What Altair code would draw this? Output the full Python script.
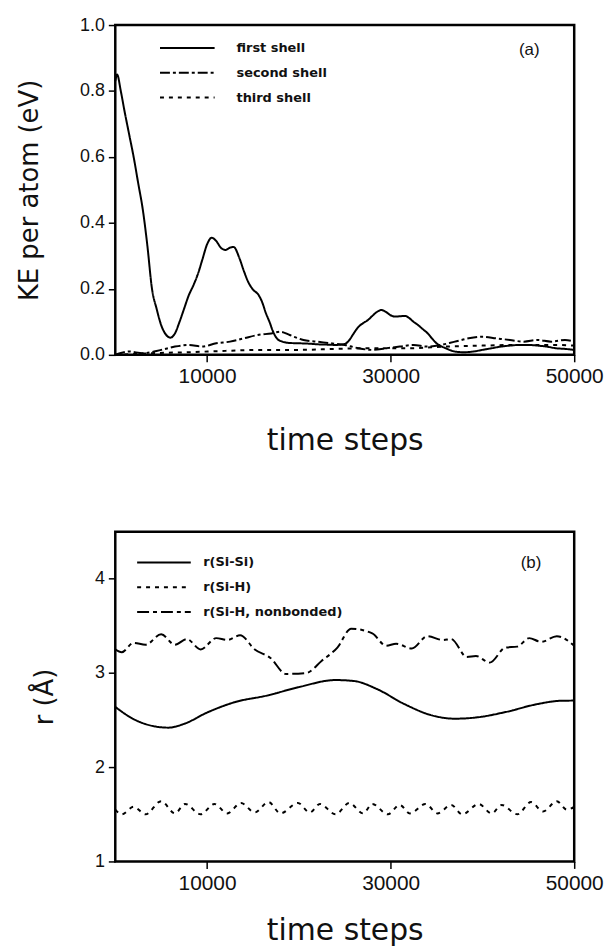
import altair as alt
import pandas as pd

# ---------------- Panel (a): kinetic energy per atom ----------------
shell_names = ["first shell", "second shell", "third shell"]

t_first = [0, 200, 600, 1000, 1500, 2000, 2500, 3000, 3500, 4000,
           4500, 5000, 5500, 6000, 6500, 7000, 7500, 8000, 8500, 9000,
           9500, 10000, 10500, 11000, 11500, 12000, 12500, 12900, 13500, 14000,
           14500, 15000, 15600, 16000, 16400, 16800, 17200, 17600, 18200, 19000,
           20000, 21000, 22000, 23000, 24000, 25000, 25500, 26000, 26500, 27000,
           27500, 28000, 28500, 29000, 29500, 30000, 30500, 31000, 31600, 32000,
           32500, 33000, 33500, 34000, 34500, 35000, 36000, 37000, 38000, 39000,
           40000, 41000, 42000, 43000, 44000, 45000, 46000, 47000, 48000, 49000,
           50000]
ke_first = [0.83, 0.85, 0.80, 0.74, 0.67, 0.60, 0.52, 0.44, 0.33, 0.20,
            0.14, 0.09, 0.062, 0.052, 0.065, 0.10, 0.14, 0.18, 0.21, 0.245,
            0.29, 0.335, 0.355, 0.345, 0.325, 0.318, 0.325, 0.327, 0.295, 0.255,
            0.22, 0.198, 0.182, 0.16, 0.127, 0.10, 0.07, 0.05, 0.04, 0.036,
            0.035, 0.034, 0.032, 0.031, 0.03, 0.033, 0.045, 0.066, 0.085, 0.096,
            0.105, 0.118, 0.13, 0.136, 0.13, 0.12, 0.116, 0.117, 0.118, 0.112,
            0.10, 0.09, 0.078, 0.066, 0.05, 0.035, 0.02, 0.01, 0.008, 0.01,
            0.015, 0.02, 0.025, 0.028, 0.03, 0.03, 0.028, 0.025, 0.02, 0.018,
            0.015]

t_second = [0, 1500, 3000, 5000, 6500, 8000, 9500, 11000, 12500, 14000,
            15500, 17000, 18000, 19000, 20500, 22000, 23500, 25000, 26500, 28000,
            29500, 31000, 32500, 34000, 35500, 37000, 38500, 40000, 41500, 43000,
            44500, 46000, 47500, 49000, 50000]
ke_second = [0.0, 0.01, 0.005, 0.015, 0.025, 0.03, 0.025, 0.035, 0.04, 0.05,
             0.06, 0.065, 0.07, 0.06, 0.045, 0.04, 0.035, 0.03, 0.02, 0.015,
             0.02, 0.025, 0.03, 0.025, 0.03, 0.04, 0.05, 0.055, 0.05, 0.045,
             0.04, 0.045, 0.04, 0.045, 0.04]

t_third = [0, 4000, 8000, 12000, 16000, 20000, 24000, 28000, 32000, 36000,
           40000, 44000, 48000, 50000]
ke_third = [0.0, 0.005, 0.008, 0.012, 0.015, 0.015, 0.018, 0.02, 0.02, 0.025,
            0.028, 0.03, 0.03, 0.028]

# ---------------- Panel (b): distances ----------------
bond_names = ["r(Si-Si)", "r(Si-H)", "r(Si-H, nonbonded)"]

t_sisi = [0, 2000, 4500, 5800, 7500, 10000, 13000, 16500, 20000, 24000,
          26000, 28500, 31500, 34500, 37000, 39500, 42500, 46000, 48500, 50000]
r_sisi = [2.64, 2.51, 2.43, 2.42, 2.46, 2.58, 2.69, 2.76, 2.85, 2.925,
          2.915, 2.83, 2.67, 2.55, 2.515, 2.53, 2.585, 2.67, 2.705, 2.707]

t_sih = [0, 700, 2000, 3300, 5000, 6500, 7600, 9300, 10800, 12200,
         13700, 15200, 16700, 18000, 19900, 21200, 22300, 24000, 25500, 27000,
         28000, 29700, 31000, 32100, 33800, 35100, 36600, 37800, 39600, 41000,
         42100, 43800, 45300, 46600, 48100, 49200, 50000]
r_sih = [1.55, 1.50, 1.58, 1.50, 1.64, 1.51, 1.61, 1.50, 1.61, 1.51,
         1.62, 1.52, 1.63, 1.51, 1.62, 1.52, 1.61, 1.50, 1.62, 1.51,
         1.61, 1.50, 1.60, 1.51, 1.61, 1.51, 1.60, 1.50, 1.61, 1.51,
         1.60, 1.50, 1.63, 1.53, 1.64, 1.55, 1.58]

t_nonb = [0, 700, 2000, 3300, 5000, 6500, 7800, 9300, 11000, 12200,
          13600, 15200, 16900, 18600, 20800, 22500, 24200, 25700, 28000, 29500,
          30600, 32300, 34000, 35700, 36600, 38300, 39300, 40800, 42500, 43800,
          45100, 46400, 48100, 50000]
r_nonb = [3.25, 3.22, 3.32, 3.30, 3.41, 3.30, 3.36, 3.25, 3.37, 3.35,
          3.40, 3.25, 3.16, 2.99, 3.00, 3.13, 3.27, 3.47, 3.42, 3.29,
          3.31, 3.26, 3.39, 3.35, 3.36, 3.17, 3.18, 3.11, 3.27, 3.28,
          3.37, 3.33, 3.39, 3.29]

x_ticks = [10000, 30000, 50000]
ke_ticks = [0.0, 0.2, 0.4, 0.6, 0.8, 1.0]
r_ticks = [1, 2, 3, 4]
panel_labels = ["(a)", "(b)"]

# ---------------- tables ----------------
df_a = pd.concat([
    pd.DataFrame({"t": t_first, "v": ke_first, "s": shell_names[0]}),
    pd.DataFrame({"t": t_second, "v": ke_second, "s": shell_names[1]}),
    pd.DataFrame({"t": t_third, "v": ke_third, "s": shell_names[2]}),
])
df_b = pd.concat([
    pd.DataFrame({"t": t_sisi, "v": r_sisi, "s": bond_names[0]}),
    pd.DataFrame({"t": t_sih, "v": r_sih, "s": bond_names[1]}),
    pd.DataFrame({"t": t_nonb, "v": r_nonb, "s": bond_names[2]}),
])

W, H = 462, 332
TICK_FONT = "Liberation Sans"
TITLE_FONT = "DejaVu Sans"


def x_axis(ty):
    return alt.Axis(values=x_ticks, format="d", title="time steps",
                    labelFont=TICK_FONT, labelFontSize=21, labelColor="#111",
                    labelFlush=False, labelPadding=4,
                    tickSize=7, tickWidth=1.5, tickColor="black",
                    domain=False, grid=False,
                    titleFont=TITLE_FONT, titleFontSize=30, titleFontWeight="normal",
                    titleColor="#111", titleX=W / 2, titleY=ty,
                    titleAlign="center", titleBaseline="middle")


def y_axis(title, values, fmt, tx):
    return alt.Axis(values=values, format=fmt, title=title,
                    labelFont=TICK_FONT, labelFontSize=18, labelColor="#111",
                    labelPadding=4,
                    tickSize=7, tickWidth=1.5, tickColor="black",
                    domain=False, grid=False,
                    titleFont=TITLE_FONT, titleFontSize=26, titleFontWeight="normal",
                    titleColor="#111", titleAngle=270, titleX=tx, titleY=H / 2,
                    titleAlign="center", titleBaseline="middle")


def legend(lx, ly, size, offset, clip):
    return alt.Legend(orient="none", legendX=lx, legendY=ly, title=None,
                      padding=0, symbolType="stroke", symbolSize=size,
                      symbolStrokeWidth=2, symbolStrokeColor="black",
                      labelFont=TITLE_FONT, labelFontWeight="bold",
                      labelFontSize=13, labelColor="#111",
                      labelOffset=offset, clipHeight=clip, rowPadding=0)


xs = alt.Scale(domain=[0, 50000], nice=False, zero=False)
frame = alt.ViewBackground(stroke="black", strokeWidth=2.5, fill="white")

lines_a = alt.Chart(df_a).mark_line(color="black", strokeWidth=2, interpolate="monotone").encode(
    x=alt.X("t:Q", scale=xs, axis=x_axis(86)),
    y=alt.Y("v:Q", scale=alt.Scale(domain=[0, 1], nice=False),
            axis=y_axis("KE per atom (eV)", ke_ticks, ".1f", -86)),
    strokeDash=alt.StrokeDash("s:N", scale=alt.Scale(domain=shell_names,
                                                     range=[[1, 0], [10, 3, 3, 3], [4, 5]]),
                              legend=legend(44, 10.5, 3025, 21, 25)),
)
lab_a = alt.Chart(pd.DataFrame({"t": [45100], "v": [0.925], "txt": [panel_labels[0]]})).mark_text(
    font=TICK_FONT, fontSize=17, color="#111").encode(x="t:Q", y="v:Q", text="txt:N")
panel_a = alt.layer(lines_a, lab_a).properties(width=W, height=H, view=frame)

lines_b = alt.Chart(df_b).mark_line(color="black", strokeWidth=2, interpolate="monotone").encode(
    x=alt.X("t:Q", scale=xs, axis=x_axis(70)),
    y=alt.Y("v:Q", scale=alt.Scale(domain=[1, 4.5], nice=False, zero=False),
            axis=y_axis("r  (Å)", r_ticks, "d", -71)),
    strokeDash=alt.StrokeDash("s:N", scale=alt.Scale(domain=bond_names,
                                                     range=[[1, 0], [4, 5], [12, 4, 4, 4]]),
                              legend=legend(21, 18.75, 2916, 11.5, 24.5)),
)
lab_b = alt.Chart(pd.DataFrame({"t": [45300], "v": [4.17], "txt": [panel_labels[1]]})).mark_text(
    font=TICK_FONT, fontSize=17, color="#111").encode(x="t:Q", y="v:Q", text="txt:N")
panel_b = alt.layer(lines_b, lab_b).properties(width=W, height=H, view=frame)

chart = alt.vconcat(panel_a, panel_b, spacing=178, bounds="flush").resolve_scale(
    strokeDash="independent", y="independent").properties(
    padding={"left": 7, "top": 3, "right": 0, "bottom": 0},
    background="white"
).configure_view(stroke="black", strokeWidth=2.5)

chart.save("out.html", embed_options={"renderer": "svg", "actions": False})
